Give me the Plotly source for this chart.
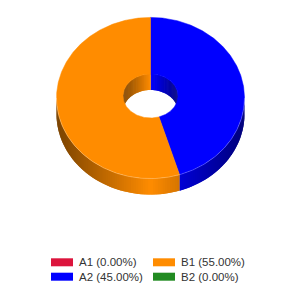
import numpy as np
import plotly.graph_objects as go

# ---- data ----
labels = ["A1", "A2", "B1", "B2"]
values = [0, 45, 55, 0]
colors = ["#DC143C", "#0000FF", "#FF8C00", "#228B22"]

# ---- geometry (pixel-like axes) ----
CX, CY, RX, RY = 150.5, 98.0, 94.0, 80.6
ICX, ICY, IRX, IRY = 150.5, 96.0, 27.5, 22.0
DEPTH = 16.0
STEP = 1.5

total = float(sum(values))
percents = [v / total * 100 for v in values]
angles = []
cum = 0.0
for v in values:
    a0 = cum / total * 360
    cum += v
    angles.append((a0, cum / total * 360))


def ell(cx, cy, rx, ry, th):
    t = np.radians(th)
    return cx + rx * np.sin(t), cy - ry * np.cos(t)


def shade(hexcol, f):
    h = hexcol.lstrip("#")
    r, g, b = (int(h[i:i + 2], 16) for i in (0, 2, 4))
    return "rgb(%d,%d,%d)" % (r * f, g * f, b * f)


def arange(a, b):
    n = max(2, int(np.ceil((b - a) / 0.5)) + 1)
    return np.linspace(a, b, n)


fig = go.Figure()


def poly(xs, ys, col, lw=0.0):
    fig.add_trace(go.Scatter(x=list(xs) + [xs[0]], y=list(ys) + [ys[0]], mode="lines",
                             fill="toself", fillcolor=col,
                             line=dict(color=col, width=lw), hoverinfo="skip",
                             showlegend=False))


def intersect(a0, a1, b0, b1):
    lo, hi = max(a0, b0), min(a1, b1)
    return (lo, hi) if hi > lo else None


def wall(cx, cy, rx, ry, seg, col, k):
    edges = np.arange(seg[0], seg[1], STEP).tolist() + [seg[1]]
    for s, e in zip(edges[:-1], edges[1:]):
        e2 = min(e + STEP, seg[1])  # overlap next strip to hide seams
        th = arange(s, e2)
        x, y = ell(cx, cy, rx, ry, th)
        xm, _ = ell(cx, cy, rx, ry, (s + e) / 2)
        c = shade(col, 1 - k * abs(xm - cx) / rx)
        poly(np.concatenate([x, x[::-1]]), np.concatenate([y, (y + DEPTH)[::-1]]), c)


# outer side walls (front half)
for (a0, a1), col in zip(angles, colors):
    seg = intersect(a0, a1, 90, 270)
    if seg:
        wall(CX, CY, RX, RY, seg, col, 0.52)

# inner walls (back half of hole)
for (a0, a1), col in zip(angles, colors):
    for b0, b1 in ((0, 90), (270, 360)):
        seg = intersect(a0, a1, b0, b1)
        if seg:
            wall(ICX, ICY, IRX, IRY, seg, col, 0.5)

# top faces (annular sectors)
for (a0, a1), col in zip(angles, colors):
    if a1 <= a0:
        continue
    th = arange(a0, a1)
    xo, yo = ell(CX, CY, RX, RY, th)
    xi, yi = ell(ICX, ICY, IRX, IRY, th[::-1])
    poly(np.concatenate([xo, xi]), np.concatenate([yo, yi]), col, lw=0.5)

# subtle highlight along the front outer rim
th = arange(90, 270)
xh, yh = ell(CX, CY, RX, RY, th)
fig.add_trace(go.Scatter(x=xh, y=yh, mode="lines", hoverinfo="skip", showlegend=False,
                         line=dict(color="rgba(255,255,255,0.3)", width=0.8)))

# legend (custom)
SW_X = [51, 153]
ROW_Y = [262.3, 276.7]
for i, (lab, pct, col) in enumerate(zip(labels, percents, colors)):
    c, r = i // 2, i % 2
    fig.add_shape(type="rect", xref="x", yref="y", x0=SW_X[c], x1=SW_X[c] + 22,
                  y0=ROW_Y[r] - 4, y1=ROW_Y[r] + 4, fillcolor=col, line_width=0)
    fig.add_annotation(x=SW_X[c] + 26, y=ROW_Y[r], xref="x", yref="y",
                       text="%s (%.2f%%)" % (lab, pct), showarrow=False,
                       xanchor="left", yanchor="middle",
                       font=dict(family="Liberation Sans, Arial, sans-serif", size=11.5,
                                 color="#333333"))

fig.update_layout(
    width=300, height=300, margin=dict(l=0, r=0, t=0, b=0),
    paper_bgcolor="white", plot_bgcolor="white", showlegend=False,
    xaxis=dict(range=[0, 300], visible=False, fixedrange=True),
    yaxis=dict(range=[300, 0], visible=False, fixedrange=True),
)

fig.write_html("out.html")
